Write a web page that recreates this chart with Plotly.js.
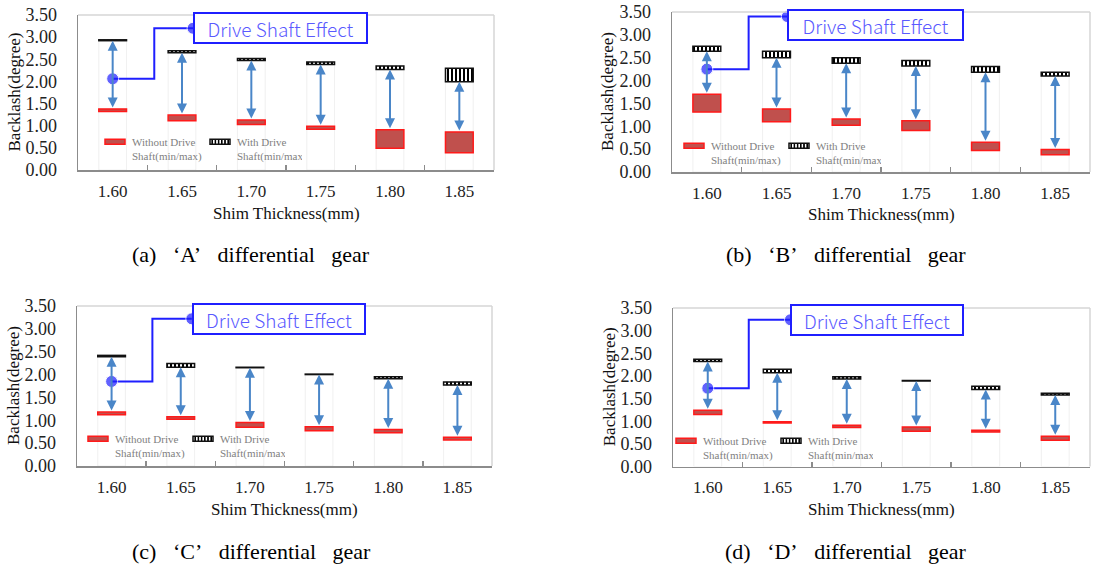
<!DOCTYPE html>
<html>
<head>
<meta charset="utf-8">
<script src="https://cdn.plot.ly/plotly-3.0.1.min.js"></script>
<style>html,body{margin:0;padding:0;background:#fff;}#chart{width:1094px;height:565px;}</style>
</head>
<body>
<div id="chart"></div>
<script>
// ---------------- data ----------------
const categories = ['1.60', '1.65', '1.70', '1.75', '1.80', '1.85'];
const yTickVals = [0, 0.5, 1, 1.5, 2, 2.5, 3, 3.5];
const yTickText = ['0.00', '0.50', '1.00', '1.50', '2.00', '2.50', '3.00', '3.50'];

// (a) 'A' differential gear
const aWithoutMin = [1.32, 1.11, 1.03, 0.92, 0.49, 0.39];
const aWithoutMax = [1.38, 1.24, 1.13, 0.99, 0.91, 0.86];
const aWithMin    = [2.92, 2.65, 2.47, 2.38, 2.27, 1.99];
const aWithMax    = [2.94, 2.69, 2.52, 2.44, 2.35, 2.30];
// (b) 'B' differential gear
const bWithoutMin = [1.31, 1.10, 1.02, 0.91, 0.47, 0.38];
const bWithoutMax = [1.70, 1.38, 1.16, 1.12, 0.65, 0.49];
const bWithMin    = [2.64, 2.50, 2.38, 2.32, 2.18, 2.10];
const bWithMax    = [2.75, 2.64, 2.50, 2.44, 2.31, 2.18];
// (c) 'C' differential gear
const cWithoutMin = [1.12, 1.02, 0.85, 0.77, 0.73, 0.57];
const cWithoutMax = [1.18, 1.08, 0.95, 0.86, 0.80, 0.63];
const cWithMin    = [2.39, 2.16, 2.15, 2.00, 1.91, 1.77];
const cWithMax    = [2.42, 2.24, 2.16, 2.01, 1.95, 1.84];
// (d) 'D' differential gear
const dWithoutMin = [1.15, 0.96, 0.86, 0.78, 0.76, 0.58];
const dWithoutMax = [1.24, 0.99, 0.91, 0.87, 0.80, 0.67];
const dWithMin    = [2.32, 2.07, 1.93, 1.89, 1.70, 1.58];
const dWithMax    = [2.37, 2.15, 1.98, 1.90, 1.77, 1.62];

// "Drive Shaft Effect" callout (data coordinates)
const calloutDotY  = [2.06, 2.25, 1.85, 1.73];
const calloutTopY  = [3.20, 3.40, 3.22, 3.24];
const calloutElbow = [0.60, 0.60, 0.59, 0.59];
const calloutEndX  = [1.16, 1.155, 1.16, 1.19];

const G = '\u00a0\u00a0\u00a0';
const captions = ['(a)' + G + '\u2018A\u2019' + G + 'differential' + G + 'gear',
                  '(b)' + G + '\u2018B\u2019' + G + 'differential' + G + 'gear',
                  '(c)' + G + '\u2018C\u2019' + G + 'differential' + G + 'gear',
                  '(d)' + G + '\u2018D\u2019' + G + 'differential' + G + 'gear'];

const panels = [
  {wMin: aWithoutMin, wMax: aWithoutMax, dMin: aWithMin, dMax: aWithMax},
  {wMin: bWithoutMin, wMax: bWithoutMax, dMin: bWithMin, dMax: bWithMax},
  {wMin: cWithoutMin, wMax: cWithoutMax, dMin: cWithMin, dMax: cWithMax},
  {wMin: dWithoutMin, wMax: dWithoutMax, dMin: dWithMin, dMax: dWithMax}
];

// ---------------- layout geometry (pixels) ----------------
const W = 1094, H = 565;
const px = v => v / W;
const py = v => 1 - v / H;
const boxes = [
  {l: 78,  r: 494,  t: 15,  b: 170},
  {l: 672, r: 1090, t: 12,  b: 172},
  {l: 77,  r: 492,  t: 306, b: 466},
  {l: 673, r: 1090, t: 308, b: 466.5}
];
const legendPos = [
  {x: 92, y: 128}, {x: 671, y: 132}, {x: 75, y: 425}, {x: 663, y: 427}
];
const boxYShift = [0, -8, 0, 0];
const boxWidth = [171, 173, 170, 170];

const SERIF = 'Liberation Serif';
const idx = categories.map((c, i) => i);
const bounds = categories.slice(1).map((c, i) => i + 0.5);

const RED_FILL = '#c0504d', RED_LINE = '#ff1a1a';
const ARROW = '#4a86c8', BLUE = '#1f1fff';

const traces = [];
const layout = {
  width: W, height: H,
  margin: {l: 0, r: 0, t: 0, b: 0},
  paper_bgcolor: '#fff', plot_bgcolor: '#fff',
  barmode: 'overlay',
  font: {family: SERIF, color: '#222'},
  showlegend: true,
  annotations: [],
  shapes: []
};

panels.forEach((p, k) => {
  const n = k === 0 ? '' : String(k + 1);
  const xa = 'x' + n, ya = 'y' + n;
  const lg = 'legend' + n;
  const bx = boxes[k];

  layout['xaxis' + n] = {
    domain: [px(bx.l), px(bx.r)], anchor: ya,
    range: [-0.5, 5.5], tickmode: 'array', tickvals: idx, ticktext: categories,
    ticks: '', showgrid: false, zeroline: false,
    showline: true, linecolor: '#8c8c8c', linewidth: 1.5,
    tickfont: {family: SERIF, size: 17, color: '#222'},
    ticklabelstandoff: 5,
    minor: {tickmode: 'array', tickvals: bounds, ticks: 'inside', ticklen: 5,
            tickcolor: '#8c8c8c', tickwidth: 1.5, showgrid: false},
    fixedrange: true
  };
  layout['yaxis' + n] = {
    domain: [py(bx.b), py(bx.t)], anchor: xa,
    range: [0, 3.5], tickmode: 'array', tickvals: yTickVals, ticktext: yTickText,
    ticks: '', showgrid: false, zeroline: false,
    showline: true, linecolor: '#8c8c8c', linewidth: 1.5,
    tickfont: {family: SERIF, size: 18, color: '#222'},
    ticklabelstandoff: 16,
    fixedrange: true
  };

  // light top / right frame
  layout.shapes.push(
    {type: 'line', xref: xa + ' domain', yref: ya + ' domain', x0: 0, x1: 1, y0: 1, y1: 1,
     line: {color: '#d6d6d6', width: 1.5}},
    {type: 'line', xref: xa + ' domain', yref: ya + ' domain', x0: 1, x1: 1, y0: 0, y1: 1,
     line: {color: '#d6d6d6', width: 1.5}}
  );

  // faint invisible stack base (drop lines)
  traces.push({
    type: 'bar', x: idx, y: p.dMin, base: 0, width: 0.4,
    xaxis: xa, yaxis: ya, showlegend: false, hoverinfo: 'skip',
    marker: {color: 'rgba(0,0,0,0)', line: {color: 'rgba(205,205,205,0.3)', width: 1}}
  });
  // without drive shaft
  traces.push({
    type: 'bar', name: 'Without Drive<br>Shaft(min/max)',
    x: idx, y: p.wMax.map((v, i) => v - p.wMin[i]), base: p.wMin, width: 0.4,
    xaxis: xa, yaxis: ya, legend: lg,
    marker: {color: RED_FILL, line: {color: RED_LINE, width: 1.5}}
  });
  // with drive shaft
  traces.push({
    type: 'bar', name: 'With Drive<br>Shaft(min/max)',
    x: idx, y: p.dMax.map((v, i) => v - p.dMin[i]), base: p.dMin, width: 0.4,
    xaxis: xa, yaxis: ya, legend: lg,
    marker: {color: '#ffffff',
             pattern: {shape: '|', fgcolor: '#000000', bgcolor: '#ffffff', size: 4, solidity: 0.5},
             line: {color: '#111111', width: 1.5}}
  });
  // callout connector
  traces.push({
    type: 'scatter', mode: 'lines+markers', xaxis: xa, yaxis: ya, showlegend: false,
    hoverinfo: 'skip', cliponaxis: false,
    x: [0, calloutElbow[k], calloutElbow[k], calloutEndX[k]],
    y: [calloutDotY[k], calloutDotY[k], calloutTopY[k], calloutTopY[k]],
    line: {color: BLUE, width: 2},
    marker: {color: BLUE, size: [12, 0, 0, 12]}
  });

  // double-headed arrows
  idx.forEach(i => {
    layout.annotations.push({
      xref: xa, yref: ya, axref: xa, ayref: ya,
      x: i, y: p.dMin[i], ax: i, ay: p.wMax[i],
      text: '', showarrow: true, arrowside: 'end+start',
      arrowhead: 2, startarrowhead: 2, arrowsize: 1, startarrowsize: 1,
      arrowwidth: 2, arrowcolor: ARROW, standoff: 0, startstandoff: 0
    });
  });

  // callout box
  layout.annotations.push({
    xref: xa, yref: ya, x: calloutEndX[k], y: calloutTopY[k],
    xanchor: 'left', yanchor: 'middle', yshift: boxYShift[k],
    text: 'Drive Shaft Effect', showarrow: false,
    font: {family: 'Noto Sans CJK KR, Noto Sans, sans-serif', size: 19, color: '#5a5aff', weight: 300},
    bordercolor: BLUE, borderwidth: 2, borderpad: 0,
    width: boxWidth[k], height: 28, align: 'center', bgcolor: '#ffffff'
  });

  // axis titles
  layout.annotations.push({
    xref: 'paper', yref: 'paper', x: px(bx.l - 64), y: py((bx.t + bx.b) / 2),
    text: 'Backlash(degree)', textangle: -90, showarrow: false,
    xanchor: 'center', yanchor: 'middle',
    font: {family: SERIF, size: 17, color: '#111'}
  });
  layout.annotations.push({
    xref: 'paper', yref: 'paper', x: px((bx.l + bx.r) / 2), y: py(bx.b + 43),
    text: 'Shim Thickness(mm)', showarrow: false,
    xanchor: 'center', yanchor: 'middle',
    font: {family: SERIF, size: 17, color: '#111'}
  });
  // caption
  layout.annotations.push({
    xref: 'paper', yref: 'paper', x: px(k % 2 === 0 ? 251 : 846), y: py(k < 2 ? 254 : 551),
    text: captions[k], showarrow: false, xanchor: 'center', yanchor: 'middle',
    font: {family: SERIF, size: 22, color: '#000'}
  });

  // legend
  layout[lg] = {
    x: px(legendPos[k].x), y: py(legendPos[k].y), xanchor: 'left', yanchor: 'top',
    orientation: 'h', valign: 'top', bgcolor: 'rgba(0,0,0,0)', borderwidth: 0,
    font: {family: SERIF, size: 11, color: '#7f7f7f'},
    itemwidth: 30, entrywidth: 60, entrywidthmode: 'pixels', traceorder: 'normal'
  };
});

Plotly.newPlot('chart', traces, layout, {staticPlot: true, displayModeBar: false}).then(() => {
  document.querySelectorAll('.legendpoints path').forEach(p => {
    p.setAttribute('d', 'M13,2.5H-7V-2.5H13Z');
  });
});
</script>
</body>
</html>
